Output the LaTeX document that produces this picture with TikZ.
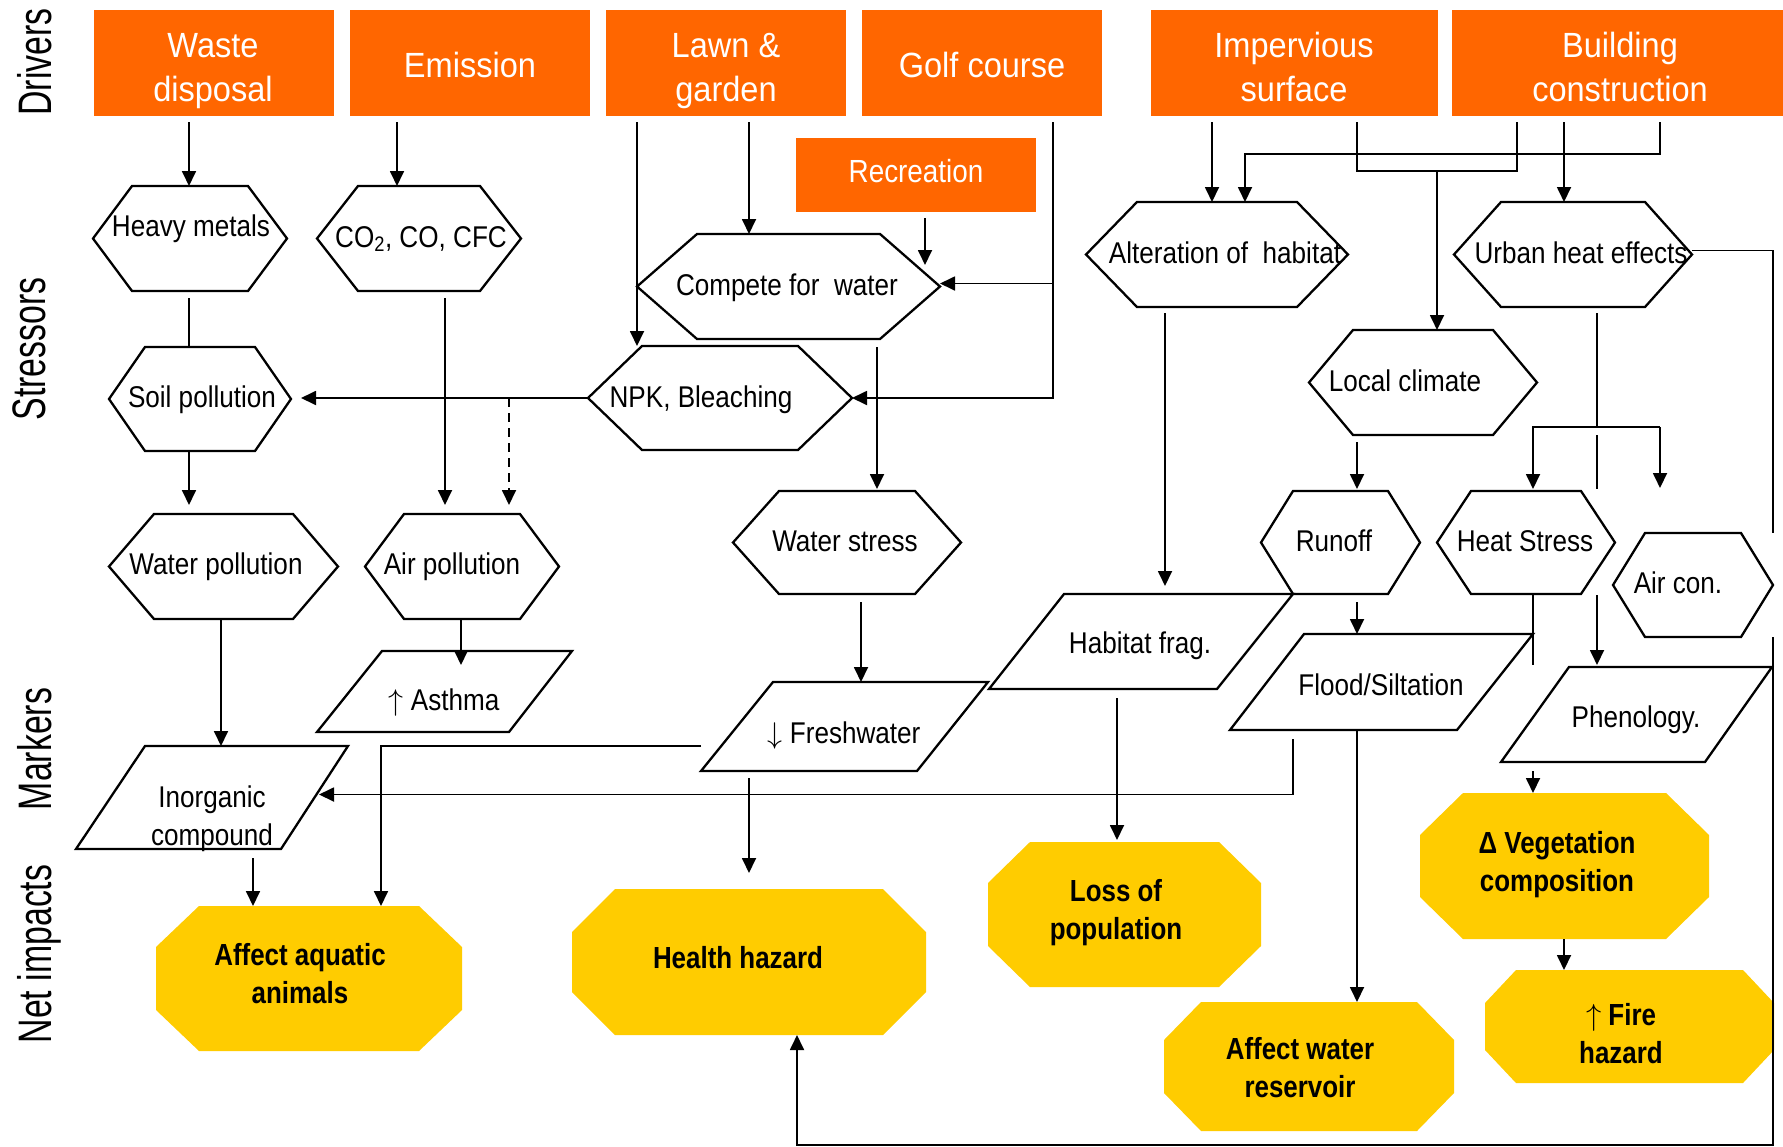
\RequirePackage{fix-cm}
\documentclass[tikz,border=0pt]{standalone}
\usepackage{fontspec}
\setmainfont{Liberation Sans}
\newfontfamily\hexf{Liberation Sans}[FakeStretch=0.87]
\newfontfamily\drvf{Liberation Sans}[FakeStretch=0.93]
\newfontfamily\octf{Liberation Sans}[FakeStretch=0.85]
\newfontfamily\sidef{Liberation Sans}[FakeStretch=0.72]
\usetikzlibrary{arrows.meta,calc}
\definecolor{drvorange}{RGB}{255,102,0}
\definecolor{impyellow}{RGB}{255,204,0}
\newcommand\twoln[2]{\begin{tabular}[t]{@{}c@{}}#1\\#2\end{tabular}}
\newcommand\uparr{$\uparrow$}
\newcommand\downarr{$\downarrow$}
% name, L, R, T, B
\newcommand\drvshape[5]{%
  \node[drvbox, minimum width={#3-#2}, minimum height={#5-#4}] (#1) at ({(#2+#3)/2},{(#4+#5)/2}) {};}
% name, L, R, T, B, inset
\newcommand\hexshape[6]{%
  \filldraw[shapeline] ({#2+#6},#4) -- ({#3-#6},#4) -- (#3,{(#4+#5)/2}) -- ({#3-#6},#5) -- ({#2+#6},#5) -- (#2,{(#4+#5)/2}) -- cycle;
  \node[boxref, minimum width={#3-#2}, minimum height={#5-#4}] (#1) at ({(#2+#3)/2},{(#4+#5)/2}) {};}
% name, TLx, TRx, BLx, BRx, T, B
\newcommand\parashape[7]{%
  \filldraw[shapeline] (#2,#6) -- (#3,#6) -- (#5,#7) -- (#4,#7) -- cycle;
  \node[boxref, minimum width={#3-#4}, minimum height={#7-#6}] (#1) at ({(#4+#3)/2},{(#6+#7)/2}) {};}
% name, L, R, T, B, cut x, cut y
\newcommand\octshape[7]{%
  \fill[impyellow] ({#2+#6},#4) -- ({#3-#6},#4) -- (#3,{#4+#7}) -- (#3,{#5-#7}) -- ({#3-#6},#5) -- ({#2+#6},#5) -- (#2,{#5-#7}) -- (#2,{#4+#7}) -- cycle;
  \node[boxref, minimum width={#3-#2}, minimum height={#5-#4}] (#1) at ({(#2+#3)/2},{(#4+#5)/2}) {};}

\begin{document}
\begin{tikzpicture}[x=1pt,y=-1pt,
  boxref/.style={rectangle, inner sep=0pt, outer sep=0pt, draw=none},
  drvbox/.style={boxref, fill=drvorange},
  shapeline/.style={draw=black, fill=white, line width=2.3pt},
  ln/.style={line width=1.8pt},
  arr/.style={ln, -{Triangle[length=15pt,width=14pt]}},
  dgap/.style={shorten <=6pt},
  hext/.style={font=\hexf\fontsize{30}{38}\selectfont, anchor=base, inner sep=0pt},
  drvt/.style={font=\drvf\fontsize{35}{44}\selectfont, anchor=base, inner sep=0pt, text=white},
  octt/.style={font=\octf\bfseries\fontsize{30.5}{38}\selectfont, anchor=base, inner sep=0pt},
  sidet/.style={font=\sidef\fontsize{47}{50}\selectfont, anchor=base, inner sep=0pt, rotate=90}]
\useasboundingbox (0,0) rectangle (1783,1146);
\fill[white] (0,0) rectangle (1783,1146);

% side labels
\node[sidet] (lDrivers) at (51,62) {Drivers};
\node[sidet] (lStressors) at (45,349) {Stressors};
\node[sidet] (lMarkers) at (51,749) {Markers};
\node[sidet] (lNet) at (51,954) {Net impacts};

% drivers
\drvshape{waste}{94}{334}{10}{116}
\drvshape{emis}{350}{590}{10}{116}
\drvshape{lawn}{606}{846}{10}{116}
\drvshape{golf}{862}{1102}{10}{116}
\drvshape{imperv}{1151}{1438}{10}{116}
\drvshape{build}{1452}{1783}{10}{116}
\drvshape{recr}{796}{1036}{138}{212}

% stressors
\hexshape{heavy}{93}{287}{186}{291}{39}
\hexshape{co2}{317}{521}{186}{291}{41}
\hexshape{compete}{637}{940}{234}{339}{60}
\hexshape{soil}{109}{291}{347}{451}{36}
\hexshape{npk}{588}{852}{346}{450}{54}
\hexshape{altern}{1086}{1348}{202}{307}{51}
\hexshape{urban}{1454}{1692}{202}{307}{47}
\hexshape{local}{1309}{1537}{330}{435}{44}
\hexshape{waterp}{109}{338}{514}{619}{45}
\hexshape{airp}{365}{559}{514}{619}{39}
\hexshape{wstress}{733}{961}{491}{594}{46}
\hexshape{runoff}{1261}{1420}{491}{594}{32}
\hexshape{heat}{1437}{1615}{491}{594}{34}
\hexshape{aircon}{1613}{1773}{533}{637}{32}

% markers
\parashape{asthma}{382}{572}{317}{509}{651}{732}
\parashape{inorg}{145}{348}{76}{281}{746}{849}
\parashape{fresh}{773}{988}{701}{917}{682}{771}
\parashape{habfrag}{1064}{1293}{989}{1217}{594}{689}
\parashape{flood}{1304}{1533}{1230}{1457}{634}{730}
\parashape{phen}{1569}{1772}{1501}{1705}{667}{762}

% net impacts
\octshape{aquatic}{156}{462}{906}{1051}{43}{41}
\octshape{health}{572}{926}{889}{1035}{43}{43}
\octshape{losspop}{988}{1261}{842}{987}{42}{41}
\octshape{reservoir}{1164}{1454}{1002}{1131}{37}{38}
\octshape{veg}{1420}{1709}{793}{939}{43}{42}
\octshape{fire}{1485}{1774}{970}{1083}{31}{33}

% texts
\node[drvt] (tWaste) at (213,57) {\twoln{Waste}{disposal}};
\node[drvt] (tEmis) at (470,77) {Emission};
\node[drvt] (tLawn) at (726,57) {\twoln{Lawn \&}{garden}};
\node[drvt] (tGolf) at (982,77) {Golf course};
\node[drvt] (tImperv) at (1294,57) {\twoln{Impervious}{surface}};
\node[drvt] (tBuild) at (1620,57) {\twoln{Building}{construction}};
\node[hext, text=white, font=\hexf\fontsize{32}{38}\selectfont] (tRecr) at (916,182) {Recreation};

\node[hext] (tHeavy) at (191,236) {Heavy metals};
\node[hext] (tCO) at (421,247) {CO\textsubscript{2}, CO, CFC};
\node[hext] (tCompete) at (787,295) {Compete for\ \ water};
\node[hext] (tSoil) at (202,407) {Soil pollution};
\node[hext] (tNPK) at (701,407) {NPK, Bleaching};
\node[hext] (tAltern) at (1225,263) {Alteration of\ \ habitat};
\node[hext] (tUrban) at (1581,263) {Urban heat effects};
\node[hext] (tLocal) at (1405,391) {Local climate};
\node[hext] (tWaterp) at (216,574) {Water pollution};
\node[hext] (tAirp) at (452,574) {Air pollution};
\node[hext] (tWstress) at (845,551) {Water stress};
\node[hext] (tRunoff) at (1334,551) {Runoff};
\node[hext] (tHeat) at (1525,551) {Heat Stress};
\node[hext] (tAircon) at (1678,593) {Air con.};

\node[hext] (tHabfrag) at (1140,653) {Habitat frag.};
\node[hext] (tFlood) at (1381,695) {Flood/Siltation};
\node[hext] (tPhen) at (1636,727) {Phenology.};
\node[hext] (tAsthma) at (444,710) {\uparr\ Asthma};
\node[hext] (tInorg) at (212,807) {\twoln{Inorganic}{compound}};
\node[hext] (tFresh) at (844,743) {\downarr\ Freshwater};

\node[octt] (tAquatic) at (300,965) {\twoln{Affect aquatic}{animals}};
\node[octt] (tHealth) at (738,968) {Health hazard};
\node[octt] (tLoss) at (1116,901) {\twoln{Loss of}{population}};
\node[octt] (tRes) at (1300,1059) {\twoln{Affect water}{reservoir}};
\node[octt] (tVeg) at (1557,853) {\twoln{Δ Vegetation}{composition}};
\node[octt] (tFire) at (1621,1025) {\twoln{\uparr\ Fire}{hazard}};

% connectors: drivers -> stressors
\draw[arr,dgap] (waste.south -| 189,0) -- (heavy.north -| 189,0);
\draw[arr,dgap] (emis.south -| 397,0) -- (co2.north -| 397,0);
\draw[arr,dgap] (lawn.south -| 637,0) -- (npk.north -| 637,0);
\draw[arr,dgap] (lawn.south -| 749,0) -- (compete.north -| 749,0);
\draw[arr,dgap] (recr.south -| 925,0) -- ($(compete.north -| 925,0)+(0,31)$);
\draw[arr,dgap] (golf.south -| 1053,0) |- (npk.east);
\draw[arr] ($(compete.east -| 1053,0)+(0,-3)$) -- ($(compete.east)+(0,-3)$);
\draw[arr,dgap] (imperv.south -| 1212,0) -- (altern.north -| 1212,0);
\draw[arr,dgap] (build.south -| 1660,0) -- ++(0,38) -| (altern.north -| 1245,0);
\draw[ln,shorten <=6pt,shorten >=6pt] (imperv.south -| 1357,0) -- ++(0,55) -| (build.south -| 1517,0);
\draw[arr] ($(imperv.south -| 1437,0)+(0,55)$) -- (local.north -| 1437,0);
\draw[arr,dgap] (build.south -| 1564,0) -- (urban.north -| 1564,0);

% stressors
\draw[ln] ($(heavy.south -| 189,0)+(0,7)$) -- (soil.north -| 189,0);
\draw[arr] ($(co2.south -| 445,0)+(0,7)$) -- ($(airp.north -| 445,0)+(0,-9)$);
\draw[arr,shorten >=10pt] (npk.west) -- (npk.west -| soil.east);
\draw[arr,dashed,dash pattern=on 9pt off 6pt] (npk.west -| 509,0) -- ($(airp.north -| 509,0)+(0,-9)$);
\draw[arr] ($(compete.south -| 877,0)+(0,8)$) -- ($(wstress.north -| 877,0)+(0,-2)$);
\draw[arr] (soil.south -| 189,0) -- ($(waterp.north -| 189,0)+(0,-9)$);
\draw[ln] ($(urban.east)+(0,-4)$) -| ($(aircon.east)+(0,-52)$);
\draw[arr] ($(aircon.east)+(0,52)$) -- (aircon.east |- 0,1145) -| (health.south -| 797,0);
\draw[ln] ($(urban.south -| 1597,0)+(0,6)$) -- ($(heat.north -| 1597,0)+(0,-64)$);
\draw[arr] ($(heat.north -| 1660,0)+(0,-64)$) -| ($(heat.north -| 1533,0)+(0,-2)$);
\draw[arr] ($(heat.north -| 1660,0)+(0,-64)$) -- ($(aircon.north -| 1660,0)+(0,-45)$);
\draw[ln] ($(heat.north -| 1597,0)+(0,-56)$) -- ($(heat.north -| 1597,0)+(0,-2)$);
\draw[arr] ($(local.south -| 1357,0)+(0,7)$) -- ($(runoff.north -| 1357,0)+(0,-2)$);
\draw[arr] ($(altern.south -| 1165,0)+(0,6)$) -- ($(habfrag.north -| 1165,0)+(0,-8)$);

% stressors -> markers
\draw[arr] (waterp.south -| 221,0) -- (inorg.north -| 221,0);
\draw[arr] (airp.south -| 461,0) -- ($(asthma.north -| 461,0)+(0,14)$);
\draw[arr] ($(wstress.south -| 861,0)+(0,8)$) -- (fresh.north -| 861,0);
\draw[arr] ($(runoff.south -| 1357,0)+(0,8)$) -- (flood.north -| 1357,0);
\draw[arr] ($(heat.south -| 1597,0)+(0,1)$) -- ($(phen.north -| 1597,0)+(0,-2)$);
\draw[ln] ($(heat.south -| 1533,0)+(0,1)$) -- ($(phen.north -| 1533,0)+(0,-2)$);

% markers -> impacts
\draw[arr] ($(fresh.south west)+(0,-25)$) -| (aquatic.north -| 381,0);
\draw[arr] ($(inorg.south -| 253,0)+(0,9)$) -- (aquatic.north -| 253,0);
\draw[arr] ($(fresh.south -| 749,0)+(0,7)$) -- ($(health.north -| 749,0)+(0,-16)$);
\draw[arr] ($(flood.south -| 1293,0)+(0,9)$) |- ($(inorg.east)+(-29,-3)$);
\draw[arr] (flood.south -| 1357,0) -- (reservoir.north -| 1357,0);
\draw[arr] ($(habfrag.south -| 1117,0)+(0,9)$) -- ($(losspop.north -| 1117,0)+(0,-2)$);
\draw[arr] ($(phen.south -| 1533,0)+(0,9)$) -- (veg.north -| 1533,0);
\draw[arr] (veg.south -| 1564,0) -- (fire.north -| 1564,0);
\end{tikzpicture}
\end{document}
